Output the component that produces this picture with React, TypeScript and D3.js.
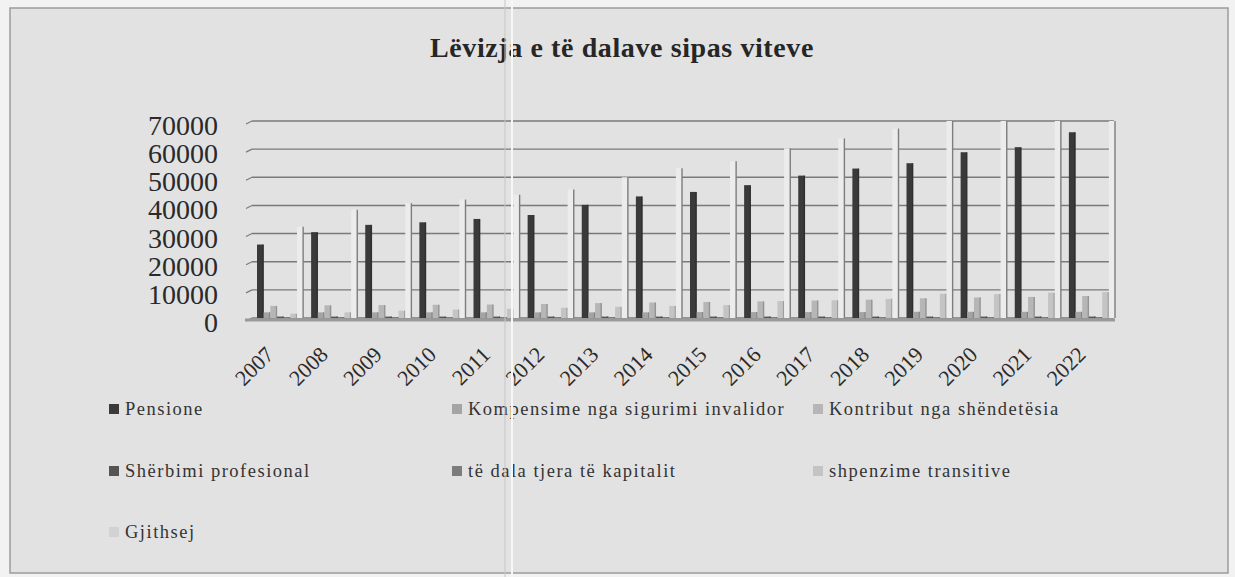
import * as d3 from "d3";

const years = ["2007", "2008", "2009", "2010", "2011", "2012", "2013", "2014", "2015", "2016", "2017", "2018", "2019", "2020", "2021", "2022"];

const seriesNames = [
  "Pensione",
  "Kompensime nga sigurimi invalidor",
  "Kontribut nga shëndetësia",
  "Shërbimi profesional",
  "të dala tjera të kapitalit",
  "shpenzime transitive",
  "Gjithsej",
];

const pensione = [26100, 30500, 33100, 34000, 35200, 36600, 40200, 43200, 44800, 47200, 50600, 53100, 55000, 58900, 60700, 66000];
const kompensime = [2000, 2000, 2000, 2000, 2000, 2000, 2000, 2000, 2100, 2100, 2100, 2100, 2200, 2200, 2200, 2200];
const kontribut = [4300, 4500, 4600, 4700, 4800, 5000, 5300, 5500, 5700, 5900, 6200, 6500, 7000, 7300, 7500, 7800];
const sherbimi = [500, 500, 500, 500, 500, 500, 500, 500, 500, 500, 500, 500, 500, 500, 500, 500];
const teDala = [300, 300, 300, 300, 300, 300, 300, 300, 300, 300, 300, 300, 300, 300, 300, 300];
const shpenzime = [1500, 2000, 2600, 3000, 3300, 3600, 4000, 4300, 4600, 6000, 6300, 6800, 8600, 8500, 9000, 9200];
const gjithsej = [32400, 38500, 40800, 42100, 43800, 45700, 50000, 53200, 55700, 60300, 63800, 67300, 73000, 77000, 80000, 85000];

const yTicks = [0, 10000, 20000, 30000, 40000, 50000, 60000, 70000];

const allSeries = [pensione, kompensime, kontribut, sherbimi, teDala, shpenzime, gjithsej];
const colors = ["#3a3a3a", "#a4a4a4", "#b6b6b6", "#555555", "#7c7c7c", "#c4c4c4", "#ececec"];
const legendColors = ["#3a3a3a", "#a4a4a4", "#b6b6b6", "#555555", "#7c7c7c", "#c4c4c4", "#d2d2d2"];

const W = 1235;
const H = 577;
const plot = { left: 252, right: 1118, top: 121, bottom: 318 };

export default function App() {
  const x0 = d3.scaleBand().domain(years).range([plot.left, plot.right]).paddingInner(0).paddingOuter(0);
  const x1 = d3
    .scaleBand()
    .domain(seriesNames)
    .range([5, x0.bandwidth() - 3])
    .paddingInner(0.08);
  const y = d3.scaleLinear().domain([0, 70000]).range([plot.bottom, plot.top]);

  const serif = "'Liberation Serif', 'Times New Roman', serif";

  const legendRows = [
    [0, 1, 2],
    [3, 4, 5],
    [6],
  ];
  const legendCols = [109, 452, 813];
  const legendY = [415, 477, 538];

  return (
    <svg width={W} height={H} style={{ position: "absolute", left: 0, top: 0 }}>
      <defs>
        <clipPath id="plotClip">
          <rect x={plot.left - 10} y={plot.top} width={plot.right - plot.left + 20} height={plot.bottom - plot.top + 4} />
        </clipPath>
      </defs>
      <rect x={0} y={0} width={W} height={H} fill="#f2f2f2" />
      <rect x={10} y={8} width={1218} height={565} fill="#e2e2e2" stroke="#9c9c9c" strokeWidth={1.5} />

      {/* title */}
      <text x={622} y={57} textAnchor="middle" fontFamily={serif} fontWeight="bold" fontSize={28} letterSpacing={0.6} fill="#262626">
        Lëvizja e të dalave sipas viteve
      </text>

      {/* gridlines with the little 3D stub at the left */}
      {yTicks.map((t) => (
        <g key={t}>
          <line x1={plot.left} x2={plot.right - 4} y1={y(t)} y2={y(t)} stroke="#7a7a7a" strokeWidth={1.4} />
          <path d={`M${plot.left - 6},${y(t) + 3} L${plot.left},${y(t)}`} stroke="#7a7a7a" strokeWidth={1.2} fill="none" />
        </g>
      ))}
      <line x1={plot.right - 4} x2={plot.right - 4} y1={plot.top} y2={plot.bottom} stroke="#8a8a8a" strokeWidth={1.2} />

      {/* bars */}
      <g clipPath="url(#plotClip)">
        {years.map((yr, i) => (
          <g key={yr} transform={`translate(${x0(yr)},0)`}>
            {seriesNames.map((s, k) => {
              const v = allSeries[k][i];
              const bx = x1(s)!;
              const bw = x1.bandwidth();
              const top = y(v);
              return (
                <g key={s}>
                  <rect x={bx} y={top} width={bw} height={plot.bottom - top} fill={colors[k]} />
                  <line
                    x1={bx + bw}
                    x2={bx + bw}
                    y1={top}
                    y2={plot.bottom}
                    stroke={k === 6 ? "#7d7d7d" : d3.color(colors[k])!.darker(0.6).toString()}
                    strokeWidth={1.4}
                  />
                </g>
              );
            })}
          </g>
        ))}
      </g>

      {/* floor */}
      <line x1={plot.left - 7} x2={plot.right - 3} y1={plot.bottom + 2} y2={plot.bottom + 2} stroke="#9a9a9a" strokeWidth={3} />

      {/* y axis labels */}
      {yTicks.map((t) => (
        <text key={t} x={218} y={y(t) + 14} textAnchor="end" fontFamily={serif} fontSize={28} fill="#2a2a2a">
          {t}
        </text>
      ))}

      {/* x axis labels */}
      {years.map((yr) => {
        const cx = x0(yr)! + x0.bandwidth() / 2 - 4;
        return (
          <text
            key={yr}
            transform={`translate(${cx},356) rotate(-45)`}
            textAnchor="end"
            fontFamily={serif}
            fontSize={22}
            fill="#2a2a2a"
          >
            {yr}
          </text>
        );
      })}

      {/* legend */}
      {legendRows.map((row, r) =>
        row.map((k, c) => (
          <g key={k} transform={`translate(${legendCols[c]},${legendY[r]})`}>
            <rect x={0} y={-11} width={10} height={10} fill={legendColors[k]} />
            <text x={16} y={0} fontFamily={serif} fontSize={18.5} letterSpacing={1.5} fill="#333">
              {seriesNames[k]}
            </text>
          </g>
        ))
      )}

      {/* scan fold lines */}
      <line x1={505} x2={505} y1={0} y2={H} stroke="#c6c6c6" strokeWidth={1} />
      <line x1={512} x2={512} y1={0} y2={H} stroke="#f7f7f7" strokeWidth={2} />
    </svg>
  );
}
